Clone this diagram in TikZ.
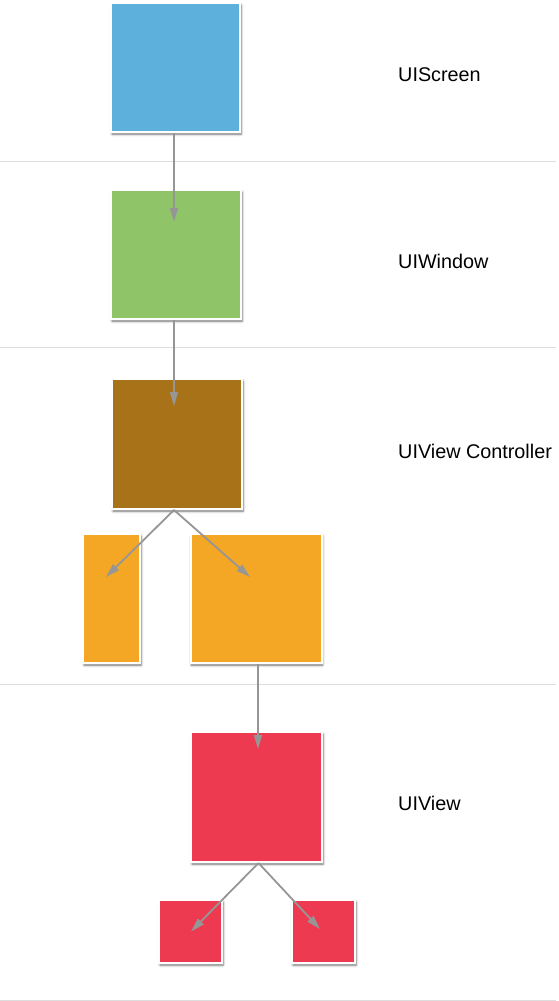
\documentclass[tikz,border=0pt]{standalone}
\usepackage{fontspec}
\setmainfont{Liberation Sans}
\usetikzlibrary{arrows.meta,shadows.blur}
\definecolor{screenBlue}{RGB}{93,175,220}
\definecolor{windowGreen}{RGB}{143,197,104}
\definecolor{ctrlBrown}{RGB}{168,114,24}
\definecolor{viewOrange}{RGB}{244,167,36}
\definecolor{viewRed}{RGB}{237,58,80}
\definecolor{linkGrey}{RGB}{150,150,150}
\definecolor{sepGrey}{RGB}{221,221,221}

\begin{document}
\begin{tikzpicture}[x=1pt,y=-1pt,
    viewbox/.style={draw=white,line width=2pt,inner sep=0pt,
      blur shadow={shadow xshift=1pt,shadow yshift=-2pt,shadow blur radius=2.5pt,
        shadow blur steps=6,shadow opacity=55}},
    link/.style={draw=linkGrey,line width=1.8pt,-{Triangle[length=14pt,width=8pt]}},
    sep/.style={draw=sepGrey,line width=1pt},
    caption/.style={anchor=west,inner sep=0pt,font=\fontsize{19.8}{23}\selectfont}]
    \useasboundingbox (0,0) rectangle (559,1001);

    % layer separators
    \foreach \ly in {161,347,684,1000}
        \draw[sep] (0,\ly) -- (556,\ly);

    % Boxes
    \node[viewbox,fill=screenBlue,minimum width=129pt,minimum height=129pt] (screen) at (175.5,67.5) {};
    \node[viewbox,fill=windowGreen,minimum width=130pt,minimum height=129pt] (window) at (176,254.5) {};
    \node[viewbox,fill=ctrlBrown,minimum width=130pt,minimum height=130pt] (controller) at (177,444) {};
    \node[viewbox,fill=viewOrange,minimum width=57pt,minimum height=129pt] (leftView) at (111.5,598.5) {};
    \node[viewbox,fill=viewOrange,minimum width=131pt,minimum height=129pt] (mainView) at (256,598.5) {};
    \node[viewbox,fill=viewRed,minimum width=131pt,minimum height=130pt] (rootView) at (256.5,797) {};
    \node[viewbox,fill=viewRed,minimum width=63pt,minimum height=63pt] (subLeft) at (190.5,931.5) {};
    \node[viewbox,fill=viewRed,minimum width=63pt,minimum height=63pt] (subRight) at (323.5,931.5) {};

    % Text Node
    \node[caption] (screenLabel) at (398,75) {UIScreen};
    \node[caption] (windowLabel) at (398,261) {UIWindow};
    \node[caption] (ctrlLabel) at (398,451) {UIView Controller};
    \node[caption] (viewLabel) at (398,803) {UIView};

    % Arrows
    \draw[link] ([xshift=-1.5pt]screen.south) -- ([xshift=-2pt,yshift=-33pt]window.north);
    \draw[link] ([xshift=-2pt]window.south) -- ([xshift=-3pt,yshift=-28pt]controller.north);
    \draw[link] ([xshift=-3pt]controller.south) -- ([xshift=-5.5pt,yshift=-44pt]leftView.north);
    \draw[link] ([xshift=-3pt]controller.south) -- ([xshift=-6pt,yshift=-44pt]mainView.north);
    \draw[link] ([xshift=2pt]mainView.south) -- ([xshift=1.5pt,yshift=-18pt]rootView.north);
    \draw[link] ([xshift=2pt]rootView.south) -- ([xshift=0.5pt]subLeft.center);
    \draw[link] ([xshift=2pt]rootView.south) -- ([xshift=-3.5pt,yshift=2.5pt]subRight.center);
\end{tikzpicture}
\end{document}
